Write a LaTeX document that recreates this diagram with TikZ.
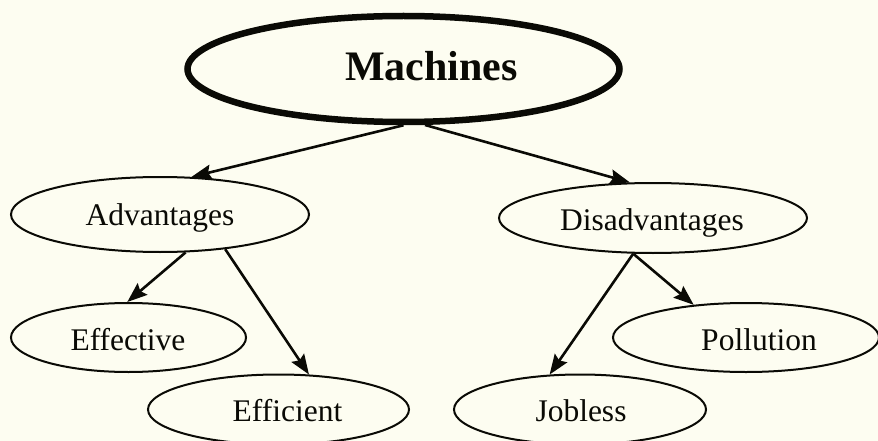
\documentclass[tikz,border=0pt]{standalone}
\usepackage{fontspec}
\setmainfont{Liberation Serif}
\usetikzlibrary{shapes.geometric,arrows.meta}
\definecolor{bgcream}{RGB}{253,253,241}
\definecolor{inkblack}{RGB}{10,10,5}
\begin{document}
\begin{tikzpicture}[x=1pt,y=-1pt,
  oval/.style={draw=inkblack, ellipse, inner sep=0pt, line width=2pt},
  bigoval/.style={draw=inkblack, ellipse, inner sep=0pt, line width=6.5pt},
  lbl/.style={anchor=base, inner sep=0pt, text=inkblack, font=\fontsize{31.5}{36}\selectfont},
  biglbl/.style={anchor=base, inner sep=0pt, text=inkblack, font=\fontsize{42}{48}\selectfont\bfseries},
  conn/.style={draw=inkblack, line width=2.6pt, -{Stealth[length=20pt,width=15pt,inset=3pt]}}]
\fill[bgcream] (0,0) rectangle (878,441);
\useasboundingbox (0,0) rectangle (878,441);
% ellipses
\node[bigoval, minimum width=432pt, minimum height=106pt] (m) at (403.5,69) {};
\node[oval, minimum width=298pt, minimum height=75pt] (adv) at (160,214.5) {};
\node[oval, minimum width=308pt, minimum height=70pt] (dis) at (653,218) {};
\node[oval, minimum width=235pt, minimum height=69pt] (eff) at (128.5,337.5) {};
\node[oval, minimum width=261pt, minimum height=70pt] (effi) at (278.5,409.5) {};
\node[oval, minimum width=252pt, minimum height=70pt] (job) at (580,409.5) {};
\node[oval, minimum width=266pt, minimum height=69pt] (pol) at (746,337.5) {};
% texts
\node[biglbl] (mt) at (431.5,81) {Machines};
\node[lbl] (advt) at (160,225) {Advantages};
\node[lbl] (dist) at (652,230) {Disadvantages};
\node[lbl] (efft) at (128,350) {Effective};
\node[lbl] (effit) at (287.5,421.5) {Efficient};
\node[lbl] (jobt) at (581,421.5) {Jobless};
\node[lbl] (polt) at (759,350) {Pollution};
% connectors
\draw[conn] (m.-90) -- (adv.50);
\draw[conn] (m.-69) -- (dis.123);
\draw[conn] (adv.-56) -- (eff.92);
\draw[conn] (adv.-28) -- (effi.49);
\draw[conn] (dis.-119) -- (job.131);
\draw[conn] (dis.-119) -- (pol.148);
\end{tikzpicture}
\end{document}
